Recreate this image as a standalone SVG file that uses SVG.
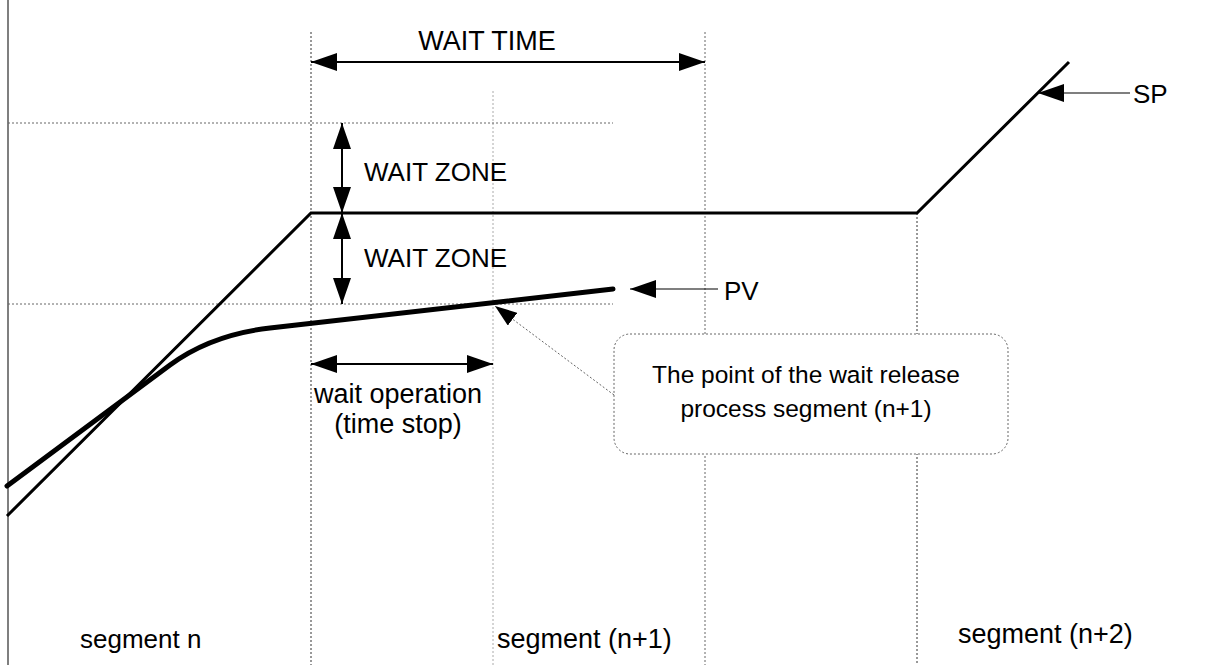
<svg xmlns="http://www.w3.org/2000/svg" width="1221" height="665" viewBox="0 0 1221 665">
<style>
  text { font-family: "Liberation Sans", Arial, sans-serif; fill: #000; }
  .lbl { font-size: 26px; }
  .big { font-size: 27px; }
  .dotD { stroke: #333; stroke-width: 1; stroke-dasharray: 2 2; fill: none; }
  .dotM { stroke: #666; stroke-width: 1; stroke-dasharray: 2 2; fill: none; }
  .dotL { stroke: #aaa; stroke-width: 1; stroke-dasharray: 2 2; fill: none; }
  .dim { stroke: #000; stroke-width: 2; fill: none; }
</style>
<defs>
  <marker id="ah" viewBox="0 0 26 18" refX="26" refY="9" markerWidth="26" markerHeight="18" markerUnits="userSpaceOnUse" orient="auto-start-reverse">
    <path d="M0,0 L26,9 L0,18 z" fill="#000"/>
  </marker>
  <marker id="ahs" viewBox="0 0 22 16" refX="22" refY="8" markerWidth="22" markerHeight="16" markerUnits="userSpaceOnUse" orient="auto">
    <path d="M0,0 L22,8 L0,16 z" fill="#000"/>
  </marker>
</defs>
<rect x="0" y="0" width="1221" height="665" fill="#fff"/>

<g id="grid">
  <line x1="8" y1="0" x2="8" y2="665" stroke="#555" stroke-width="1.5"/>
  <line x1="311" y1="32" x2="311" y2="665" class="dotD"/>
  <line x1="493" y1="91" x2="493" y2="665" class="dotL"/>
  <line x1="705" y1="32" x2="705" y2="665" class="dotM"/>
  <line x1="917" y1="213" x2="917" y2="665" class="dotD"/>
  <line x1="8" y1="123" x2="613" y2="123" class="dotM"/>
  <line x1="8" y1="304" x2="613" y2="304" class="dotM"/>
</g>

<g id="curves">
  <polyline id="sp-line" points="7,516 311,213 917,213 1069,62" fill="none" stroke="#000" stroke-width="3" stroke-linejoin="miter"/>
  <path id="pv-line" d="M7,486 L170,365 C200,343 235,332 270,328 L613,289" fill="none" stroke="#000" stroke-width="5" stroke-linecap="round"/>
</g>

<g id="connectors">
  <line x1="311" y1="62" x2="705" y2="62" class="dim" marker-start="url(#ah)" marker-end="url(#ah)"/>
  <line x1="342" y1="123" x2="342" y2="213" class="dim" marker-start="url(#ah)" marker-end="url(#ah)"/>
  <line x1="342" y1="213" x2="342" y2="304" class="dim" marker-start="url(#ah)" marker-end="url(#ah)"/>
  <line x1="311" y1="364" x2="493" y2="364" class="dim" marker-start="url(#ah)" marker-end="url(#ah)"/>
  <line x1="718" y1="289" x2="630" y2="289" stroke="#000" stroke-width="1.2" marker-end="url(#ah)"/>
  <line x1="1130" y1="93" x2="1038" y2="93" stroke="#000" stroke-width="1.2" marker-end="url(#ah)"/>
  <line x1="614" y1="395" x2="495" y2="306" stroke="#666" stroke-width="1" stroke-dasharray="2 2" marker-end="url(#ahs)"/>
</g>

<g id="callout">
  <rect x="614" y="334" width="394" height="120" rx="16" ry="16" fill="#fff" stroke="#666" stroke-width="1" stroke-dasharray="2 2"/>
  <text x="806" y="383" font-size="24.5" text-anchor="middle">The point of the wait release</text>
  <text x="806" y="417" font-size="24.5" text-anchor="middle">process segment (n+1)</text>
</g>

<g id="wait-time"><text x="487" y="50" class="big" text-anchor="middle">WAIT TIME</text></g>
<g id="wait-zone-upper"><text x="364" y="181" class="lbl">WAIT ZONE</text></g>
<g id="wait-zone-lower"><text x="364" y="267" class="lbl">WAIT ZONE</text></g>
<g id="pv-label"><text x="724" y="300" class="lbl">PV</text></g>
<g id="sp-label"><text x="1133" y="103" class="lbl">SP</text></g>
<g id="wait-operation">
  <text x="398" y="403" class="big" text-anchor="middle">wait operation</text>
  <text x="398" y="433" class="big" text-anchor="middle">(time stop)</text>
</g>
<g id="segment-n"><text x="80" y="648" class="lbl">segment n</text></g>
<g id="segment-n1"><text x="497" y="648" class="big">segment (n+1)</text></g>
<g id="segment-n2"><text x="958" y="643" class="big">segment (n+2)</text></g>
</svg>
